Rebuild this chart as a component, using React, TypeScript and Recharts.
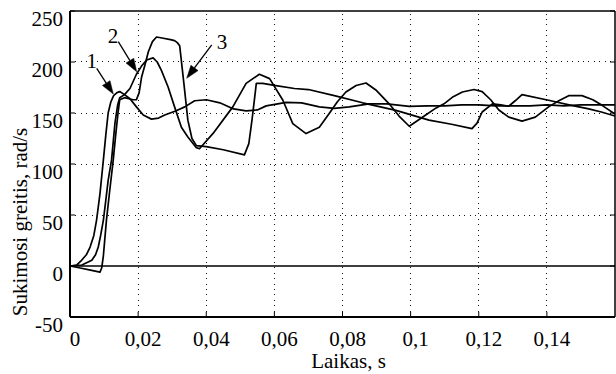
import React from 'react';
import { LineChart, Line, XAxis, YAxis, ReferenceLine, ReferenceDot } from 'recharts';

const FONT = 'Liberation Serif, Times New Roman, serif';
const textStyle = { fontFamily: FONT, fontSize: 21 };

const xTicks = [0, 0.02, 0.04, 0.06, 0.08, 0.1, 0.12, 0.14];
const yTicks = [-50, 0, 50, 100, 150, 200, 250];
const xGrid = [0.02, 0.04, 0.06, 0.08, 0.1, 0.12, 0.14];
const yGrid = [50, 100, 150, 200];
const xDomain = [0, 0.16];
const yDomain = [-50, 250];

// Curve 1
const t1 = [0, 0.002, 0.0034, 0.0048, 0.0059, 0.007, 0.0078, 0.0088, 0.0098, 0.0105, 0.0112, 0.012, 0.0128, 0.0138, 0.0146, 0.016, 0.0176, 0.0195, 0.0215, 0.0239, 0.026, 0.0278, 0.031, 0.0337, 0.0366, 0.04, 0.044, 0.048, 0.0517, 0.055, 0.0576, 0.0635, 0.068, 0.0732, 0.0776, 0.082, 0.0878, 0.093, 0.0996, 0.105, 0.11, 0.115, 0.12, 0.125, 0.13, 0.135, 0.14, 0.145, 0.15, 0.155, 0.16];
const w1 = [0, 1, 5.6, 11, 18.6, 30, 45, 71, 104, 128, 150, 161, 167, 170, 171, 168, 164, 156, 148, 144, 145, 148, 152, 156, 162, 163, 160, 154, 152, 153, 157, 160.5, 160, 156, 154.5, 156, 159, 159, 156.5, 157, 157, 158, 158, 157, 157, 157, 158, 157, 158, 158, 158];

// Curve 2
const t2 = [0, 0.0035, 0.0064, 0.0075, 0.0083, 0.009, 0.0098, 0.0105, 0.0112, 0.0122, 0.0132, 0.014, 0.0146, 0.016, 0.0176, 0.0195, 0.021, 0.0225, 0.0244, 0.0256, 0.0268, 0.0288, 0.0307, 0.0327, 0.0346, 0.0371, 0.038, 0.042, 0.0478, 0.0517, 0.0556, 0.0586, 0.0625, 0.0654, 0.0693, 0.0732, 0.0761, 0.0785, 0.081, 0.084, 0.0869, 0.09, 0.0937, 0.0966, 0.0996, 0.104, 0.1075, 0.1098, 0.1125, 0.1152, 0.1186, 0.121, 0.1235, 0.1259, 0.1288, 0.1327, 0.1366, 0.1405, 0.1435, 0.1464, 0.1503, 0.1535, 0.1562, 0.16];
const w2 = [0, 1, 5.6, 11, 18.6, 30, 45, 64, 84, 104, 140, 158, 165, 168, 174, 188, 196, 202, 204, 200, 192, 175.5, 156, 136, 126.5, 116, 115, 130, 156, 179, 188, 183.7, 162.5, 139.6, 129.8, 136, 149.4, 161, 170.6, 177, 179.4, 172, 159, 147, 137, 147, 155, 159, 166, 170.6, 173, 171, 163, 153, 146, 142, 146, 156, 162, 167, 167, 163, 157.5, 149];

// Curve 3
const t3 = [0, 0.003, 0.006, 0.0088, 0.0093, 0.0098, 0.0107, 0.0117, 0.0127, 0.0134, 0.0141, 0.0146, 0.016, 0.0185, 0.0195, 0.0203, 0.021, 0.022, 0.023, 0.0242, 0.0254, 0.027, 0.0295, 0.0307, 0.0315, 0.0322, 0.0334, 0.0346, 0.0358, 0.0371, 0.04, 0.045, 0.0512, 0.0525, 0.0535, 0.0547, 0.0566, 0.06, 0.0659, 0.07, 0.0776, 0.0859, 0.0957, 0.1054, 0.112, 0.118, 0.1195, 0.121, 0.124, 0.1265, 0.1288, 0.1307, 0.1327, 0.1405, 0.1465, 0.1523, 0.156, 0.16];
const w3 = [0, -2, -4, -6, -2, 10, 45, 75, 104, 128, 150, 163, 165, 163, 163, 170, 185, 197, 210, 220, 224.5, 223.5, 222, 221, 219, 216, 180, 143, 125, 118, 117, 114, 109, 120, 145, 179, 179, 177, 174, 173, 167, 160, 152.6, 143, 139, 134.7, 140, 151, 159, 158, 156.6, 162, 168, 162.5, 158, 154, 151, 147];

// Annotation labels and arrows (data coordinates)
const arrowLabels = ['1', '2', '3'];
const labelT = [0.00637, 0.01262, 0.04462];
const labelW = [201, 225.5, 219.6];
const arrowFromT = [0.00784, 0.01418, 0.0416];
const arrowFromW = [193.8, 219.9, 216.7];
const arrowToT = [0.01271, 0.01958, 0.03426];
const arrowToW = [168.6, 190.5, 184];

const series = [
  t1.map((t, i) => ({ t, w: w1[i] })),
  t2.map((t, i) => ({ t, w: w2[i] })),
  t3.map((t, i) => ({ t, w: w3[i] })),
];

const fmtX = (v: number) => String(v).replace('.', ',');

const XTick = (props: any) => {
  const { x, y, payload } = props;
  return (
    <text x={x + 5} y={y + 29} textAnchor="middle" style={textStyle} fill="#000">
      {fmtX(payload.value)}
    </text>
  );
};

const YTick = (props: any) => {
  const { x, y, payload } = props;
  return (
    <text x={x} y={y + 15} textAnchor="end" style={textStyle} fill="#000">
      {String(payload.value)}
    </text>
  );
};

const Empty = () => <g />;

const snap = (v: number) => Math.round(v - 0.5) + 0.5;

const GridShape = (props: any) => {
  const { x1, y1, x2, y2 } = props;
  const vertical = Math.abs(x1 - x2) < 0.01;
  const ax1 = vertical ? snap(x1) : x1;
  const ax2 = vertical ? snap(x2) : x2;
  const ay1 = vertical ? y1 : snap(y1);
  const ay2 = vertical ? y2 : snap(y2);
  return (
    <line
      x1={ax1}
      y1={ay1}
      x2={ax2}
      y2={ay2}
      stroke="#111"
      strokeWidth={1}
      strokeDasharray="1 4.4"
      shapeRendering="crispEdges"
    />
  );
};

const ArrowShape = (props: any) => {
  const { x1, y1, x2, y2 } = props;
  const dx = x2 - x1;
  const dy = y2 - y1;
  const len = Math.sqrt(dx * dx + dy * dy) || 1;
  const ux = dx / len;
  const uy = dy / len;
  const hl = 13;
  const hw = 4.5;
  const bx = x2 - ux * hl;
  const by = y2 - uy * hl;
  const pts = `${x2},${y2} ${bx - uy * hw},${by + ux * hw} ${bx + uy * hw},${by - ux * hw}`;
  return (
    <g>
      <line x1={x1} y1={y1} x2={bx} y2={by} stroke="#000" strokeWidth={1.3} />
      <polygon points={pts} fill="#000" stroke="#000" strokeWidth={0.5} />
    </g>
  );
};

export default function App() {
  return (
    <div style={{ position: 'absolute', left: 0, top: 0, width: 616, height: 374, background: '#fff' }}>
      <LineChart width={616} height={374} margin={{ top: 11, right: 1, bottom: 0, left: 0 }}>
        <XAxis
          xAxisId="b"
          dataKey="t"
          type="number"
          domain={xDomain}
          ticks={xTicks}
          allowDataOverflow
          height={57}
          tickSize={-5}
          tickMargin={5}
          tick={XTick}
          tickLine={{ stroke: '#000', strokeWidth: 1 }}
          axisLine={{ stroke: '#000', strokeWidth: 2 }}
          label={{
            content: (p: any) => {
              const vb = p.viewBox;
              return (
                <text x={vb.x + vb.width / 2 + 6} y={vb.y + vb.height - 6} textAnchor="middle" style={textStyle} fill="#000">
                  Laikas, s
                </text>
              );
            },
          }}
        />
        <XAxis
          xAxisId="top"
          orientation="top"
          mirror
          type="number"
          domain={xDomain}
          ticks={xTicks}
          allowDataOverflow
          tickSize={5}
          tick={Empty}
          tickLine={{ stroke: '#000', strokeWidth: 1 }}
          axisLine={{ stroke: '#000', strokeWidth: 1.5 }}
        />
        <YAxis
          yAxisId="l"
          type="number"
          domain={yDomain}
          ticks={yTicks}
          allowDataOverflow
          width={70}
          tickSize={-5}
          tickMargin={12}
          tick={YTick}
          tickLine={{ stroke: '#000', strokeWidth: 1 }}
          axisLine={{ stroke: '#000', strokeWidth: 2 }}
          label={{
            content: () => (
              <text x={27} y={222} transform="rotate(-90, 27, 222)" textAnchor="middle" style={textStyle} fill="#000">
                Sukimosi greitis, rad/s
              </text>
            ),
          }}
        />
        <YAxis
          yAxisId="r"
          orientation="right"
          mirror
          type="number"
          domain={yDomain}
          ticks={yTicks}
          allowDataOverflow
          tickSize={5}
          tick={Empty}
          tickLine={{ stroke: '#000', strokeWidth: 1 }}
          axisLine={{ stroke: '#000', strokeWidth: 1.5 }}
        />
        {xGrid.map((v) => (
          <ReferenceLine key={'gx' + v} xAxisId="b" yAxisId="l" x={v} shape={GridShape} />
        ))}
        {yGrid.map((v) => (
          <ReferenceLine key={'gy' + v} xAxisId="b" yAxisId="l" y={v} shape={GridShape} />
        ))}
        <ReferenceLine xAxisId="b" yAxisId="l" y={0} stroke="#000" strokeWidth={1.5} />
        {series.map((d, i) => (
          <Line
            key={i}
            xAxisId="b"
            yAxisId="l"
            data={d}
            dataKey="w"
            type="linear"
            stroke="#000"
            strokeWidth={1.7}
            strokeLinejoin="round"
            dot={false}
            activeDot={false}
            isAnimationActive={false}
          />
        ))}
        {arrowLabels.map((lab, i) => (
          <ReferenceLine
            key={'a' + i}
            xAxisId="b"
            yAxisId="l"
            segment={[
              { x: arrowFromT[i], y: arrowFromW[i] },
              { x: arrowToT[i], y: arrowToW[i] },
            ]}
            shape={ArrowShape}
          />
        ))}
        {arrowLabels.map((lab, i) => (
          <ReferenceDot
            key={'l' + i}
            xAxisId="b"
            yAxisId="l"
            x={labelT[i]}
            y={labelW[i]}
            r={0}
            fill="none"
            stroke="none"
            label={{
              content: (p: any) => {
                const vb = p.viewBox;
                const cx = vb.x + vb.width / 2;
                const cy = vb.y + vb.height / 2;
                return (
                  <text x={cx} y={cy + 7} textAnchor="middle" style={textStyle} fill="#000">
                    {lab}
                  </text>
                );
              },
            }}
          />
        ))}
      </LineChart>
    </div>
  );
}
